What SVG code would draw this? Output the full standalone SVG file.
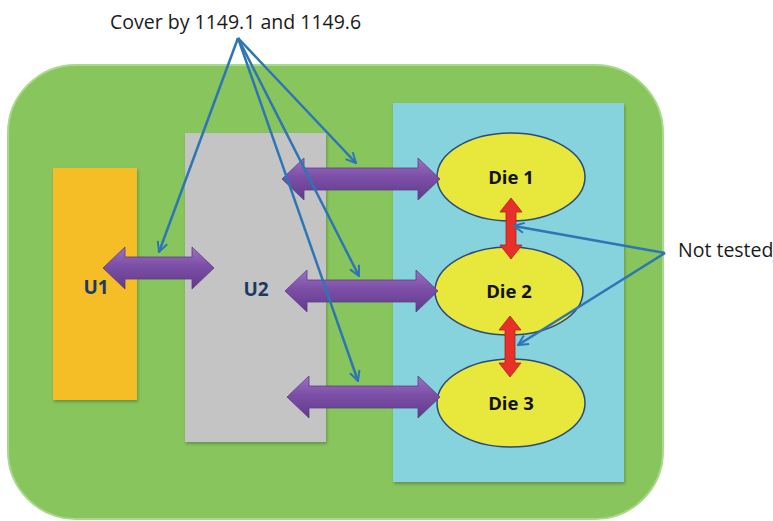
<svg xmlns="http://www.w3.org/2000/svg" width="773" height="521" viewBox="0 0 773 521">
  <defs>
    <style>
      .lbl { font-family: "Open Sans", "Liberation Sans", sans-serif; font-size: 19.5px; fill: #1a1a1a; }
      .die { font-family: "Open Sans", "Liberation Sans", sans-serif; font-size: 18.5px; font-weight: bold; fill: #111; text-anchor: middle; }
      .unit { font-family: "Open Sans", "Liberation Sans", sans-serif; font-size: 19px; font-weight: bold; fill: #1f3864; text-anchor: middle; }
      .ptr { fill: none; stroke: #2e75b6; stroke-width: 2.5; marker-end: url(#open); }
      .bus { fill: url(#purple); stroke: #5e3a85; stroke-width: 0.8; }
      .link { fill: #e8302a; stroke: #b01e1a; stroke-width: 0.8; }
      .ellipse { fill: #e8e83c; stroke: #2a4a7a; stroke-width: 1.5; }
    </style>
    <linearGradient id="purple" x1="0" y1="0" x2="0" y2="1">
      <stop offset="0" stop-color="#9a72c2"/>
      <stop offset="0.45" stop-color="#7c4fa6"/>
      <stop offset="1" stop-color="#613a8c"/>
    </linearGradient>
    <filter id="shadow" x="-10%" y="-10%" width="120%" height="120%">
      <feDropShadow dx="1" dy="2" stdDeviation="1.5" flood-color="#000" flood-opacity="0.25"/>
    </filter>
    <marker id="open" viewBox="0 0 12 12" refX="11" refY="6" markerWidth="12" markerHeight="12" markerUnits="userSpaceOnUse" orient="auto">
      <path d="M1,1 L11,6 L1,11" fill="none" stroke="#2e75b6" stroke-width="2"/>
    </marker>
  </defs>

  <rect width="773" height="521" fill="#ffffff"/>

  <!-- board -->
  <g id="board">
    <rect x="8" y="65" width="655" height="454" rx="68" ry="68" fill="#88c55c" stroke="#a9d98a" stroke-width="2"/>
  </g>

  <!-- units -->
  <g id="u1">
    <rect x="53" y="168" width="84" height="232" fill="#f5bd28" filter="url(#shadow)"/>
    <text class="unit" x="96" y="294">U1</text>
  </g>
  <g id="u2">
    <rect x="185" y="133" width="141" height="309" fill="#c4c4c4" filter="url(#shadow)"/>
    <text class="unit" x="256" y="296">U2</text>
  </g>
  <g id="stack">
    <rect x="393" y="103" width="231" height="379" fill="#86d2dd" filter="url(#shadow)"/>
  </g>

  <!-- dies -->
  <g id="die1">
    <ellipse class="ellipse" cx="511" cy="177" rx="74" ry="44"/>
    <text class="die" x="511" y="184">Die 1</text>
  </g>
  <g id="die2">
    <ellipse class="ellipse" cx="509" cy="291" rx="74" ry="44"/>
    <text class="die" x="509" y="298">Die 2</text>
  </g>
  <g id="die3">
    <ellipse class="ellipse" cx="511" cy="403" rx="74" ry="44"/>
    <text class="die" x="511" y="410">Die 3</text>
  </g>

  <!-- connectors -->
  <g id="connectors">
    <!-- horizontal buses -->
    <polygon class="bus" points="103,268 125,247 125,257 192,257 192,247 214,268 192,289 192,279 125,279 125,289"/>
    <polygon class="bus" points="282,179 304,158 304,168 418,168 418,158 440,179 418,200 418,190 304,190 304,200"/>
    <polygon class="bus" points="285,291 307,270 307,280 416,280 416,270 438,291 416,312 416,302 307,302 307,312"/>
    <polygon class="bus" points="287,397 309,376 309,386 418,386 418,376 440,397 418,418 418,408 309,408 309,418"/>
    <!-- die-to-die links -->
    <polygon class="link" points="511,198 522,212 516,212 516,245 522,245 511,259 500,245 506,245 506,212 500,212"/>
    <polygon class="link" points="510,316 521,330 515,330 515,363 521,363 510,377 499,363 505,363 505,330 499,330"/>
    <!-- callout pointers -->
    <line class="ptr" x1="238" y1="38" x2="159" y2="252"/>
    <line class="ptr" x1="238" y1="38" x2="356" y2="163"/>
    <line class="ptr" x1="238" y1="38" x2="359" y2="276"/>
    <line class="ptr" x1="238" y1="38" x2="358" y2="381"/>
    <line class="ptr" x1="665" y1="253" x2="514" y2="226"/>
    <line class="ptr" x1="665" y1="253" x2="518" y2="345"/>
  </g>

  <!-- callout labels -->
  <g id="callouts">
    <text class="lbl" x="110" y="29">Cover by 1149.1 and 1149.6</text>
    <text class="lbl" x="678" y="257">Not tested</text>
  </g>
</svg>
